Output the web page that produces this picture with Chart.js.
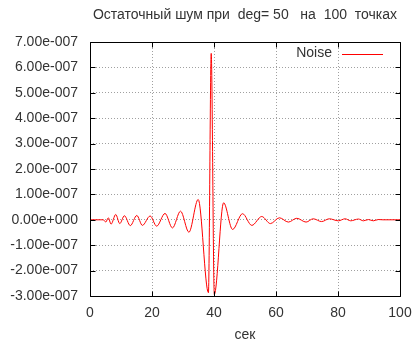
<!DOCTYPE html>
<html>
<head>
<meta charset="utf-8">
<script src="https://cdn.jsdelivr.net/npm/chart.js@4/dist/chart.umd.min.js"></script>
<style>
html,body{margin:0;padding:0;background:#fff;}
canvas{display:block;}
</style>
</head>
<body>
<canvas id="c" width="414" height="344"></canvas>
<script>
// ---- data ----
const chartTitle = 'Остаточный шум при  deg= 50   на  100  точках';
const xAxisLabel = 'сек';
const seriesLabel = 'Noise';
const timeSec = [0, 4.3, 5.1, 5.9, 6.8, 8.3, 9.6, 11.1, 13.0, 15.1, 16.9, 19.4, 21.5, 24.2, 26.6, 29.2, 31.9, 34.9,
  38.2, 39.1, 40.1, 43.1, 46.0, 49.2, 52.2, 55.4, 58.2, 61.1, 64.0, 66.7, 69.7, 72.0, 74.7, 77.2, 80.1, 82.3,
  84.1, 86.6, 88.2, 89.8, 91.4, 93.0, 94.5, 100];
const noise = [0, 0, -0.09e-7, 0.08e-7, -0.17e-7, 0.21e-7, -0.15e-7, 0.16e-7, -0.23e-7, 0.17e-7, -0.22e-7, 0.15e-7,
  -0.25e-7, 0.25e-7, -0.32e-7, 0.34e-7, -0.49e-7, 0.80e-7,
  -2.87e-7, 6.55e-7, -2.94e-7, 0.67e-7, -0.38e-7, 0.24e-7, -0.22e-7, 0.13e-7, -0.15e-7, 0.08e-7, -0.09e-7,
  0.06e-7, -0.09e-7, 0.04e-7, -0.07e-7, 0.04e-7, -0.04e-7, 0.04e-7, -0.04e-7, 0.03e-7, -0.04e-7, 0.01e-7,
  -0.04e-7, 0.01e-7, 0, 0];
const xTickValues = [0, 20, 40, 60, 80, 100];
const xTickLabels = ['0', '20', '40', '60', '80', '100'];
const yTickValues = [-3e-7, -2e-7, -1e-7, 0, 1e-7, 2e-7, 3e-7, 4e-7, 5e-7, 6e-7, 7e-7];
const yTickLabels = ['-3.00e-007', '-2.00e-007', '-1.00e-007', '0.00e+000', '1.00e-007', '2.00e-007',
  '3.00e-007', '4.00e-007', '5.00e-007', '6.00e-007', '7.00e-007'];

const FONT = 'Liberation Sans, Arial, sans-serif';
const TEXT = '#333333';

const frame = {
  id: 'frame',
  afterDatasetsDraw(chart) {
    const {ctx, chartArea: a, scales} = chart;
    ctx.save();
    ctx.strokeStyle = '#000';
    ctx.lineWidth = 1;
    ctx.setLineDash([]);
    const L = Math.round(a.left) + 0.5, R = Math.round(a.right) + 0.5;
    const T = Math.round(a.top) + 0.5, B = Math.round(a.bottom) + 0.5;
    ctx.beginPath();
    ctx.rect(L, T, R - L, B - T);
    const tl = 5;
    xTickValues.forEach(v => {
      const x = Math.round(scales.x.getPixelForValue(v)) + 0.5;
      ctx.moveTo(x, B); ctx.lineTo(x, B - tl);
      ctx.moveTo(x, T); ctx.lineTo(x, T + tl);
    });
    yTickValues.forEach(v => {
      const y = Math.round(scales.y.getPixelForValue(v)) + 0.5;
      ctx.moveTo(L, y); ctx.lineTo(L + tl, y);
      ctx.moveTo(R, y); ctx.lineTo(R - tl, y);
    });
    ctx.stroke();
    // legend inside the plot (top right)
    const ds = chart.data.datasets[0];
    ctx.font = '14px ' + FONT;
    ctx.fillStyle = TEXT;
    ctx.textAlign = 'right';
    ctx.textBaseline = 'middle';
    ctx.fillText(ds.label, 332, 53);
    ctx.strokeStyle = ds.borderColor;
    ctx.beginPath();
    ctx.moveTo(342, 54.5); ctx.lineTo(383, 54.5);
    ctx.stroke();
    ctx.restore();
  }
};

new Chart(document.getElementById('c'), {
  type: 'line',
  data: {
    datasets: [{
      label: seriesLabel,
      data: timeSec.map((t, i) => ({x: t, y: noise[i]})),
      borderColor: '#ff0000',
      borderWidth: 1,
      pointRadius: 0,
      cubicInterpolationMode: 'monotone',
      fill: false
    }]
  },
  options: {
    responsive: false,
    animation: false,
    devicePixelRatio: 1,
    layout: {padding: {left: 0, right: 14, top: 0, bottom: 0}},
    plugins: {
      legend: {display: false},
      tooltip: {enabled: false},
      title: {
        display: true,
        text: chartTitle,
        fullSize: false,
        align: 'center',
        color: TEXT,
        font: {family: FONT, size: 14, weight: 'normal', lineHeight: 1.2},
        padding: {top: 7, bottom: 18.2}
      }
    },
    scales: {
      x: {
        type: 'linear',
        min: 0, max: 100,
        afterBuildTicks: s => { s.ticks = xTickValues.map(v => ({value: v})); },
        afterFit: s => { s.height = 48; s.paddingLeft = 0; s.paddingRight = 0; },
        ticks: {
          callback: (v, i) => xTickLabels[i],
          color: TEXT, padding: 9,
          font: {family: FONT, size: 14},
          maxRotation: 0, autoSkip: false
        },
        grid: {color: '#a0a0a0', lineWidth: 1, drawTicks: false},
        border: {display: false, dash: [1, 2]},
        title: {
          display: true, text: xAxisLabel, color: TEXT,
          font: {family: FONT, size: 14, lineHeight: 1},
          padding: {top: 0, bottom: 2}
        }
      },
      y: {
        type: 'linear',
        min: -3e-7, max: 7e-7,
        afterBuildTicks: s => { s.ticks = yTickValues.map(v => ({value: v})); },
        afterFit: s => { s.width = 90; s.paddingTop = 0; s.paddingBottom = 0; },
        ticks: {
          callback: (v, i) => yTickLabels[i],
          color: TEXT, padding: 12,
          font: {family: FONT, size: 14},
          autoSkip: false
        },
        grid: {color: '#a0a0a0', lineWidth: 1, drawTicks: false},
        border: {display: false, dash: [1, 2]}
      }
    }
  },
  plugins: [frame]
});
</script>
</body>
</html>
